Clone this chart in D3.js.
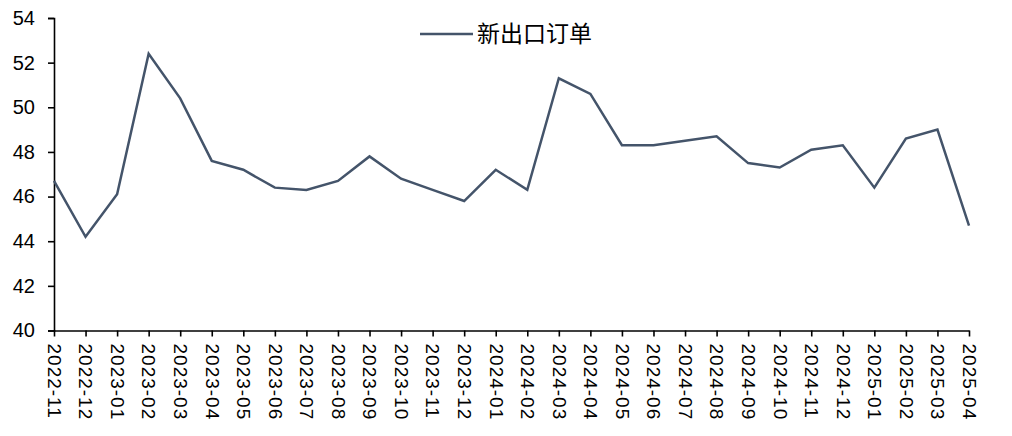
<!DOCTYPE html>
<html><head><meta charset="utf-8">
<script src="https://cdn.jsdelivr.net/npm/d3@7"></script>
<style>body{margin:0;background:#fff;} svg{display:block;}</style>
</head><body>
<svg id="c" width="1012" height="436"></svg>
<script>
const categories = ["2022-11","2022-12","2023-01","2023-02","2023-03","2023-04","2023-05","2023-06","2023-07","2023-08","2023-09","2023-10","2023-11","2023-12","2024-01","2024-02","2024-03","2024-04","2024-05","2024-06","2024-07","2024-08","2024-09","2024-10","2024-11","2024-12","2025-01","2025-02","2025-03","2025-04"];
const values = [46.7,44.2,46.1,52.4,50.4,47.6,47.2,46.4,46.3,46.7,47.8,46.8,46.3,45.8,47.2,46.3,51.3,50.6,48.3,48.3,48.5,48.7,47.5,47.3,48.1,48.3,46.4,48.6,49.0,44.7];
const yTicks = [40,42,44,46,48,50,52,54];
const seriesName = "新出口订单";

const svg = d3.select("#c");
const mLeft = 54, mRight = 969, mTop = 18, mBottom = 330.5;
const x = d3.scalePoint().domain(categories).range([mLeft, mRight]);
const y = d3.scaleLinear().domain([40, 54]).range([mBottom, mTop]);
const font = "Liberation Sans, Arial, sans-serif";

const ya = svg.append("g").attr("transform", `translate(${mLeft},0)`)
  .call(d3.axisLeft(y).tickValues(yTicks).tickSize(6).tickPadding(13));
ya.select(".domain").attr("stroke", "#000").attr("stroke-width", 1.6);
ya.selectAll(".tick line").attr("stroke", "#000").attr("stroke-width", 1.6);
ya.selectAll(".tick text").attr("font-family", font).attr("font-size", 20).attr("fill", "#000");

const xa = svg.append("g").attr("transform", `translate(0,${mBottom})`)
  .call(d3.axisBottom(x).tickSize(6).tickSizeOuter(0));
xa.select(".domain").attr("stroke", "#000").attr("stroke-width", 1.6);
xa.selectAll(".tick line").attr("stroke", "#000").attr("stroke-width", 1.6);
xa.selectAll(".tick text")
  .attr("font-family", font).attr("font-size", 19).attr("fill", "#000")
  .attr("letter-spacing", 1)
  .attr("transform", "rotate(90)")
  .attr("x", 13).attr("y", 0).attr("dy", "0.35em")
  .attr("text-anchor", "start");

const line = d3.line().x((d, i) => x(categories[i])).y(d => y(d));
svg.append("path").datum(values).attr("d", line)
  .attr("fill", "none").attr("stroke", "#44546A").attr("stroke-width", 2.5)
  .attr("stroke-linejoin", "miter");

const lg = svg.append("g");
lg.append("line").attr("x1", 420).attr("x2", 473).attr("y1", 34).attr("y2", 34)
  .attr("stroke", "#44546A").attr("stroke-width", 2.5);
lg.append("text").attr("x", 477).attr("y", 34).attr("dy", "0.35em")
  .attr("font-family", "Noto Sans CJK SC, sans-serif").attr("font-size", 23).attr("fill", "#000")
  .text(seriesName);
</script>
</body></html>
